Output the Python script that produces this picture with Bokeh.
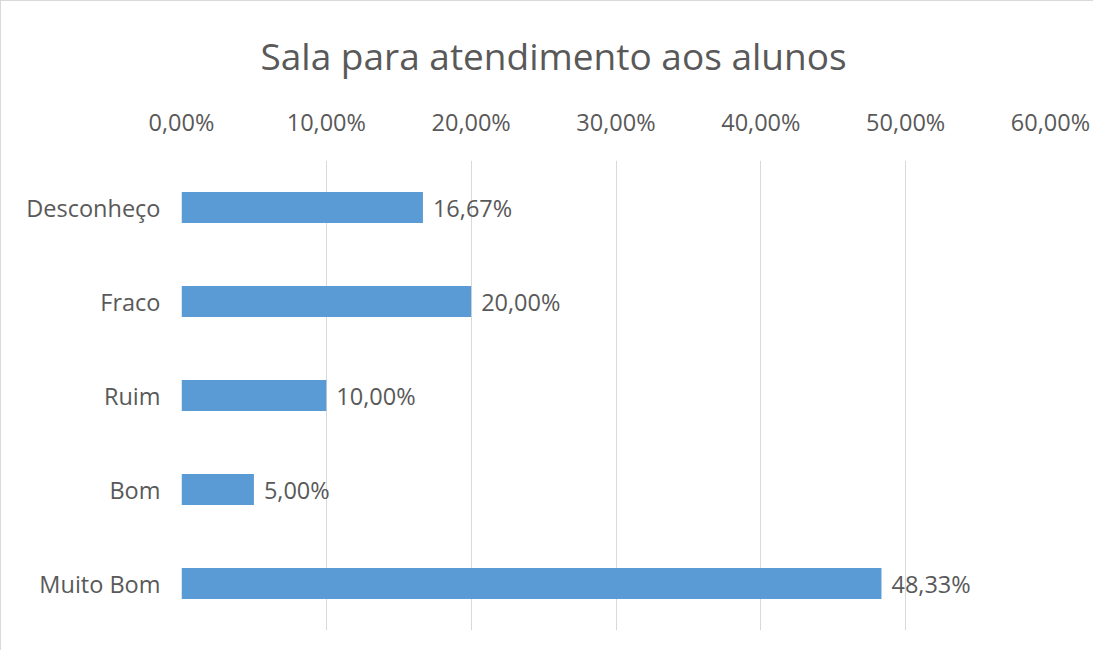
from bokeh.plotting import figure
from bokeh.models import ColumnDataSource, FactorRange, Range1d, FixedTicker, CustomJSTickFormatter
from bokeh.core.properties import value
from bokeh.embed import file_html
from bokeh.resources import INLINE

categories = ["Desconheço", "Fraco", "Ruim", "Bom", "Muito Bom"]
percent = [16.67, 20.00, 10.00, 5.00, 48.33]
tick_values = [0, 10, 20, 30, 40, 50, 60]
title_text = "Sala para atendimento aos alunos"

labels = [("%.2f" % v).replace(".", ",") + "%" for v in percent]
src = ColumnDataSource(dict(cat=categories, val=percent, lab=labels))

FONT = "Open Sans"
GREY = "#595959"
FS = "23.5px"

p = figure(width=1093, height=650, output_backend="svg", toolbar_location=None,
           y_range=FactorRange(*reversed(categories), range_padding=0),
           x_range=Range1d(0, 60), x_axis_location="above",
           min_border_left=180, min_border_right=44, min_border_top=159, min_border_bottom=21)

p.title.text = title_text
p.title.text_font = FONT
p.title.text_font_size = "37px"
p.title.text_font_style = "normal"
p.title.text_color = GREY
p.title.align = "left"
p.title.offset = 79
p.title.standoff = 44

p.hbar(y="cat", right="val", left=0, height=0.33, source=src, color="#5B9BD5", line_color=None)
p.text(x="val", y="cat", text="lab", source=src, x_offset=10, text_align="left",
       text_baseline="middle", text_font=value(FONT), text_font_size=FS, text_color=GREY)

xa = p.xaxis[0]
xa.ticker = FixedTicker(ticks=tick_values)
xa.formatter = CustomJSTickFormatter(code="return tick.toFixed(2).replace('.', ',') + '%';")
xa.axis_line_color = None
xa.major_tick_line_color = None
xa.minor_tick_line_color = None
xa.major_label_standoff = 17
xa.major_label_text_font = FONT
xa.major_label_text_font_size = FS
xa.major_label_text_color = GREY

ya = p.yaxis[0]
ya.axis_line_color = None
ya.major_tick_line_color = None
ya.minor_tick_line_color = None
ya.major_label_standoff = 15
ya.major_label_text_font = FONT
ya.major_label_text_font_size = FS
ya.major_label_text_color = GREY

p.xgrid.grid_line_color = "#d9d9d9"
p.ygrid.grid_line_color = None
p.outline_line_color = None
p.background_fill_color = "white"
p.border_fill_color = "white"
p.styles = {"border-left": "1px solid #d9d9d9", "border-top": "1px solid #d9d9d9"}

open("out.html", "w").write(file_html(p, INLINE))
